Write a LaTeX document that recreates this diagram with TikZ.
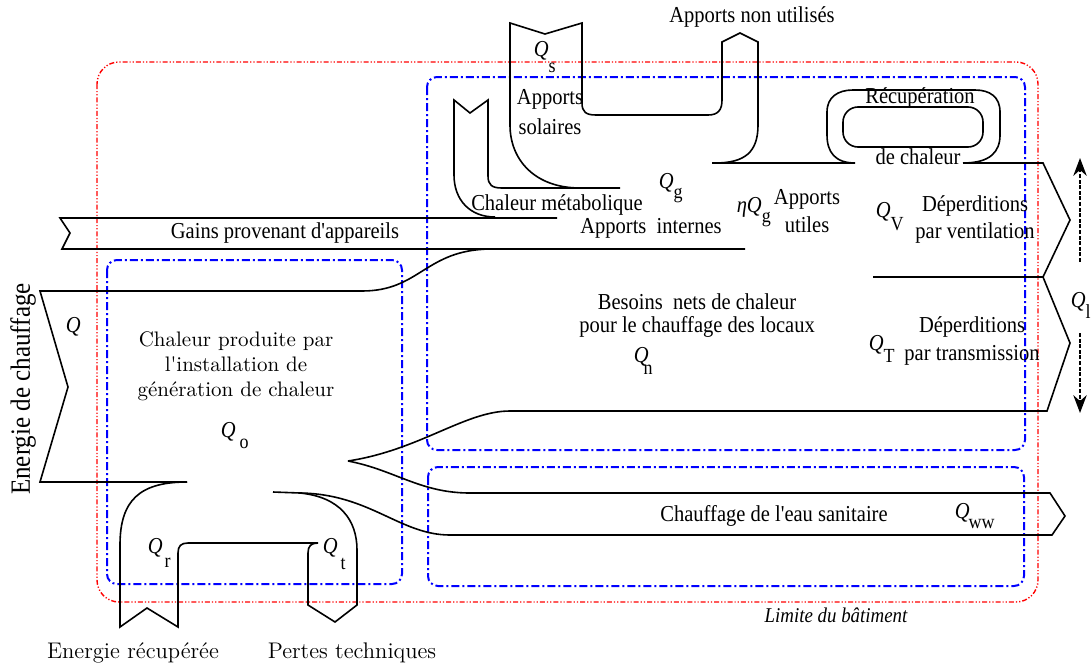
\documentclass[tikz,border=0pt]{standalone}
\usepackage{fontspec}
\newfontfamily\tnr[FakeStretch=0.9]{Liberation Serif}
\usetikzlibrary{arrows.meta}
\tikzset{>=Stealth}
\newcommand{\Qsub}[3][0pt]{{\itshape Q}\kern#1\raisebox{-#2}{\fontsize{10}{10}\selectfont#3}}

\begin{document}
\begin{tikzpicture}[x=0.5pt,y=-0.5pt,line width=0.8pt,
    zone/.style={blue,line width=1pt,rounded corners=5pt,dash pattern=on 4pt off 1.5pt on 1pt off 1.5pt},
    limite/.style={red,line width=0.7pt,rounded corners=11pt,dash pattern=on 2.5pt off 1pt on 0.6pt off 1pt on 0.6pt off 1pt},
    txt/.style={font=\tnr\fontsize{11.4}{14}\selectfont,inner sep=0pt,align=center},
    lmtxt/.style={font=\fontsize{10.5}{12.5}\selectfont,inner sep=0pt,align=center},
    qlbl/.style={font=\tnr\fontsize{11.4}{14}\selectfont,inner sep=0pt,anchor=base west},
    flux/.style={line width=1.3pt,dash pattern=on 2pt off 0.8pt,->}]
  \useasboundingbox (0,0) rectangle (1091,664);

  \draw[limite] (97,62) rectangle (1038,602);
  \draw[zone] (107,260) rectangle (402,584);
  \draw[zone] (427,77) rectangle (1025,450);
  \draw[zone] (428,467) rectangle (1024,586);

  \draw (557,218) -- (60,218) -- (70,233) -- (62,249) -- (745,249);
  \draw (362,291) -- (40,291) -- (68,387) -- (40,482) -- (187,482);
  \draw (362,291) .. controls (420,291) and (425,250) .. (490,249);
  \draw (495,217) .. controls (470,217) and (454,200) .. (454,175) -- (454,100) -- (470,113) -- (488,100)
    -- (488,176) .. controls (488,185) and (492,188) .. (502,188) -- (620,188);
  \draw (580,188) .. controls (535,188) and (510,160) .. (510,125) -- (510,23) -- (545,34) -- (582,23)
    -- (582,103) .. controls (582,112) and (586,115) .. (596,115) -- (708,115)
    .. controls (718,115) and (722,110) .. (722,100) -- (722,42) -- (740,33) -- (758,42)
    -- (758,125) .. controls (758,152) and (745,163) .. (715,163);
  \draw (712,163) -- (855,163) .. controls (835,163) and (827,152) .. (827,135) -- (827,112)
    .. controls (827,97) and (838,90) .. (853,90) -- (975,90) .. controls (990,90) and (1000,97) .. (1000,112)
    -- (1000,135) .. controls (1000,152) and (990,163) .. (963,163) -- (1043,163) -- (1070,220) -- (1043,277)
    -- (1070,343) -- (1047,411) -- (510,411) .. controls (465,411) and (420,450) .. (348,461);
  \draw[rounded corners=7.5pt] (843,107) rectangle (983,147);
  \draw (873,277) -- (1043,277);
  \draw (348,461) .. controls (395,470) and (420,493) .. (470,493) -- (1050,493) -- (1065,516) -- (1052,535)
    -- (450,535) .. controls (400,535) and (370,494) .. (300,493) -- (273,492);
  \draw (300,493) .. controls (340,497) and (357,520) .. (357,550) -- (357,605) -- (335,622) -- (308,605)
    -- (308,553) .. controls (308,546) and (311,543) .. (318,543) -- (188,543)
    .. controls (181,543) and (178,546) .. (178,553) -- (178,627) -- (147,608) -- (120,627)
    -- (120,545) .. controls (120,500) and (140,482) .. (187,482);

  \coordinate (v1) at (1080,262);
  \coordinate (v2) at (1080,158);
  \coordinate (t1) at (1080,333);
  \coordinate (t2) at (1080,413);
  \draw[flux] (v1) -- (v2);
  \draw[flux] (t1) -- (t2);

  \node[txt] (nonutil) at (752,17) {Apports non utilisés};
  \node[qlbl] (qs) at (533,56) {\Qsub{8pt}{s}};
  \node[txt,font=\tnr\fontsize{11.4}{15}\selectfont] (solaires) at (550,112) {Apports\\solaires};
  \node[txt] (recup) at (920,98) {Récupération};
  \node[txt] (dechaleur) at (918,157) {de chaleur};
  \node[txt] (metab) at (557,205) {Chaleur métabolique};
  \node[qlbl] (qg) at (658,188) {\Qsub{5pt}{g}};
  \node[txt] (internes) at (651,228) {Apports\ \ internes};
  \node[qlbl] (etaqg) at (736,212) {{\itshape η}\Qsub{5pt}{g}};
  \node[txt] (utiles) at (807,211) {Apports\\utiles};
  \node[qlbl] (qv) at (875,217) {\Qsub{6.5pt}{V}};
  \node[txt,font=\tnr\fontsize{11.4}{13.5}\selectfont] (ventil) at (975,219) {Déperditions\\par ventilation};
  \node[qlbl] (ql) at (1070,307) {\Qsub{5.5pt}{l}};
  \node[txt] (gains) at (285,233) {Gains provenant d'appareils};
  \node[txt,font=\tnr\fontsize{11.4}{11.5}\selectfont] (besoins) at (697,316) {Besoins\ \ nets de chaleur\\pour le chauffage des locaux};
  \node[qlbl] (qn) at (633,362) {\Qsub[-2.5pt]{6pt}{n}};
  \node[txt] (transm) at (972,341) {Déperditions\\par transmission};
  \node[qlbl] (qtr) at (868,350) {\Qsub{6pt}{T}};
  \node[qlbl] (q) at (65,332) {\itshape Q};
  \node[lmtxt] (produite) at (236,366) {Chaleur produite par\\l\textquotesingle installation de\\génération de chaleur};
  \node[qlbl] (qo) at (220,437) {\Qsub[2pt]{5.5pt}{o}};
  \node[qlbl] (qr) at (147,553) {\Qsub[1pt]{7pt}{r}};
  \node[qlbl] (qt) at (322,553) {\Qsub[1.5pt]{8pt}{t}};
  \node[txt] (ecs) at (774,516) {Chauffage de l'eau sanitaire};
  \node[qlbl] (qww) at (954,518) {\Qsub[-0.5pt]{5pt}{ww}};
  \node[txt,font=\tnr\itshape\fontsize{10.5}{12}\selectfont] (batiment) at (836,615) {Limite du bâtiment};
  \node[txt,font=\tnr\fontsize{13.9}{15}\selectfont,rotate=90] (energie) at (23,389) {Energie de chauffage};
  \node[lmtxt,font=\fontsize{11.3}{13}\selectfont] (recuperee) at (133,653) {Energie récupérée};
  \node[lmtxt,font=\fontsize{11.3}{13}\selectfont] (pertes) at (352,653) {Pertes techniques};
\end{tikzpicture}
\end{document}
